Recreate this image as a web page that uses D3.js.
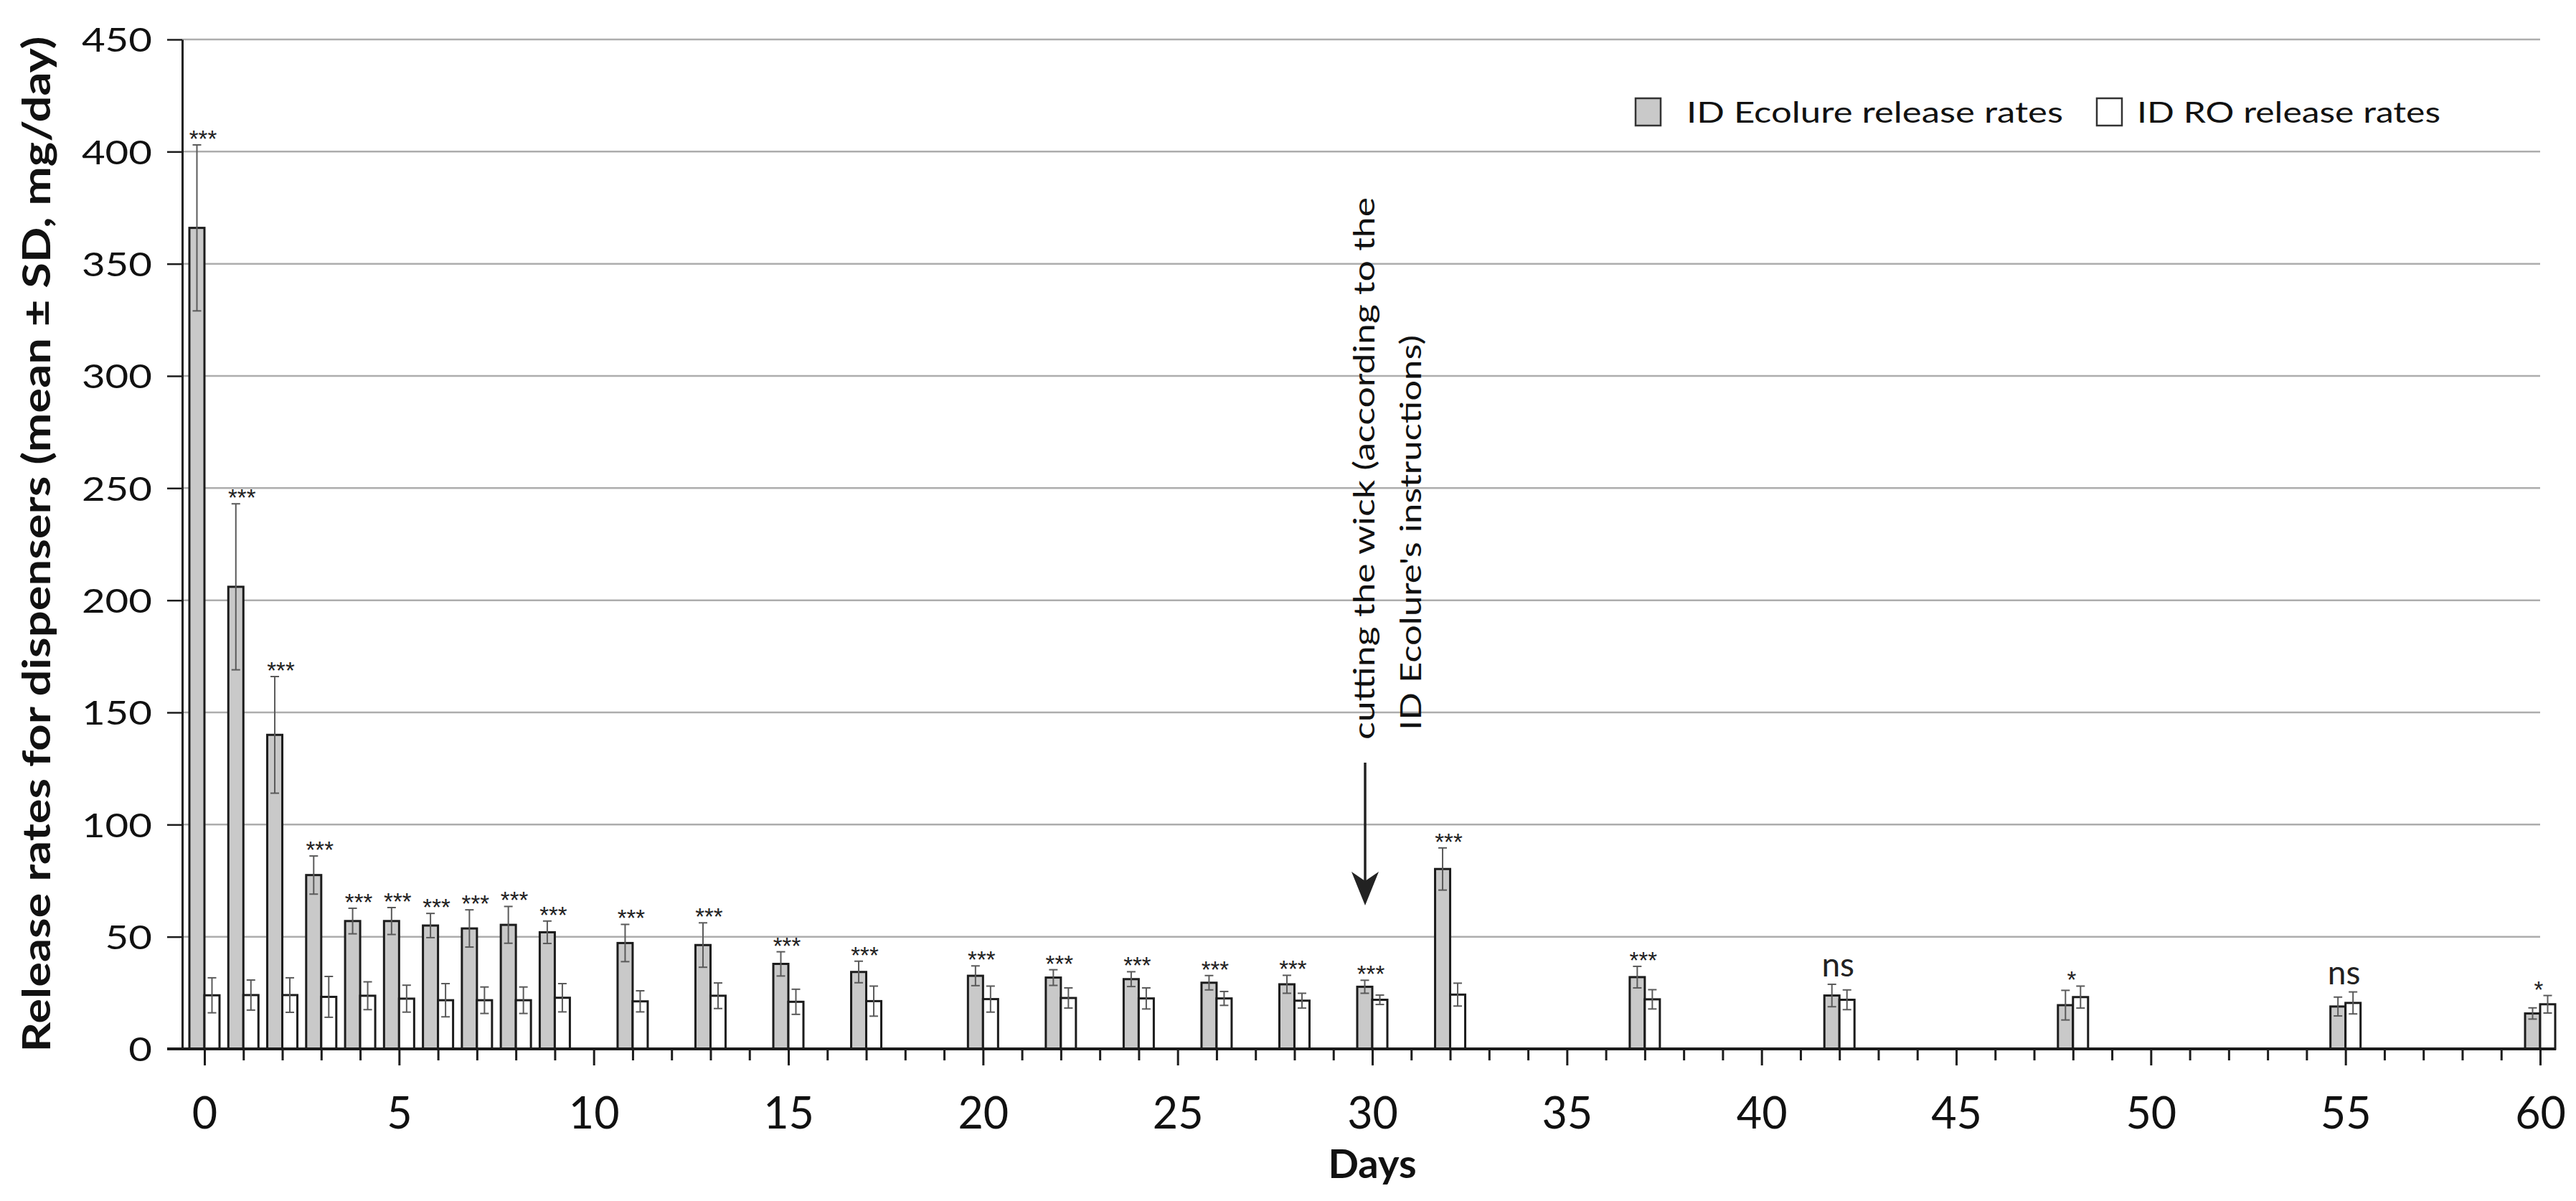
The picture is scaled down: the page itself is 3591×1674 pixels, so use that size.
<!DOCTYPE html>
<html><head><meta charset="utf-8">
<script src="https://cdn.jsdelivr.net/npm/d3@7"></script>
<style>html,body{margin:0;padding:0;background:#fff;} svg{display:block;}</style>
</head><body>
<svg id="chart" width="3591" height="1674"></svg>
<script>
// ---------- data ----------
const days = [0,1,2,3,4,5,6,7,8,9,11,13,15,17,20,22,24,26,28,30,32,37,42,48,55,60];
const ecolureMean = [366,206,140,77.5,57,57,55,53.7,55.3,52,47.2,46.3,37.9,34.3,32.6,31.8,31.1,29.5,28.8,27.7,80.2,32.0,23.8,19.5,18.9,15.8];
const ecolureSD   = [37,37,26,8.5,5.7,6,5.4,8.3,8.2,5,8.3,9.9,5.4,4.8,4.4,3.5,3.3,3.2,4.0,2.9,9.4,4.8,5.0,6.6,4.2,2.5];
const roMean      = [23.9,24,24,23.2,23.7,22.4,21.7,21.7,21.7,22.8,21.2,23.7,21,21.3,22.2,22.7,22.5,22.5,21.5,21.9,24.2,22.1,21.9,23.1,20.5,19.9];
const roSD        = [7.8,6.7,7.7,9.1,6.2,6,7.4,5.9,5.9,6.3,4.7,5.7,5.6,6.7,5.8,4.5,4.7,3.1,3.3,2.1,5.1,4.3,4.4,4.9,4.9,3.9];
const significance = ["***","***","***","***","***","***","***","***","***","***","***","***","***","***","***","***","***","***","***","***","***","***","ns","*","ns","*"];
const yTickValues = [0,50,100,150,200,250,300,350,400,450];
const xTickLabels = [0,5,10,15,20,25,30,35,40,45,50,55,60];
const seriesNames = ["ID Ecolure release rates","ID RO release rates"];
const yTitle = "Release rates for dispensers (mean \u00B1 SD, mg/day)";
const xTitle = "Days";
const annotationLines = ["cutting the wick (according to the","ID Ecolure's instructions)"];
const annotationDay = 30;

// ---------- layout ----------
const svg = d3.select("#chart");
const x = d3.scaleLinear().domain([0,60]).range([285,3541]);
const y = d3.scaleLinear().domain([0,450]).range([1462,55]);
const barW = 21;
const yAxisX = 254;
const FONT = "Lato, 'Open Sans', sans-serif";
const greyFill = "#c9c9c9";
const ink = "#1c1c1c";

function stretch(sel, factor){
  sel.each(function(){
    const L = this.getComputedTextLength();
    d3.select(this).attr("textLength", L*factor).attr("lengthAdjust","spacingAndGlyphs");
  });
}
function fitLen(sel, len){
  sel.attr("textLength", len).attr("lengthAdjust","spacingAndGlyphs");
}

// gridlines
svg.append("g").selectAll("line").data(yTickValues.filter(v=>v>0)).join("line")
  .attr("x1", yAxisX).attr("x2", x(60))
  .attr("y1", d=>y(d)).attr("y2", d=>y(d))
  .attr("stroke","#adadad").attr("stroke-width",2.5);

// bars
const rows = days.map((d,i)=>({d, gm:ecolureMean[i], gs:ecolureSD[i], wm:roMean[i], ws:roSD[i], sig:significance[i]}));
const gBars = svg.append("g");
gBars.selectAll("rect.g").data(rows).join("rect").attr("class","g")
  .attr("x", r=>x(r.d)-barW).attr("width", barW)
  .attr("y", r=>y(r.gm)).attr("height", r=>y(0)-y(r.gm))
  .attr("fill", greyFill).attr("stroke", ink).attr("stroke-width",3);
gBars.selectAll("rect.w").data(rows).join("rect").attr("class","w")
  .attr("x", r=>x(r.d)).attr("width", barW)
  .attr("y", r=>y(r.wm)).attr("height", r=>y(0)-y(r.wm))
  .attr("fill", "#ffffff").attr("stroke", ink).attr("stroke-width",3);

// error bars
const errs = [];
rows.forEach(r=>{
  errs.push({cx:x(r.d)-barW/2, lo:r.gm-r.gs, hi:r.gm+r.gs});
  errs.push({cx:x(r.d)+barW/2, lo:r.wm-r.ws, hi:r.wm+r.ws});
});
const gErr = svg.append("g").attr("stroke","#5a5a5a").attr("stroke-width",2);
gErr.selectAll("line.v").data(errs).join("line").attr("class","v")
  .attr("x1",e=>e.cx).attr("x2",e=>e.cx).attr("y1",e=>y(e.lo)).attr("y2",e=>y(e.hi));
gErr.selectAll("line.t").data(errs).join("line").attr("class","t")
  .attr("x1",e=>e.cx-6).attr("x2",e=>e.cx+6).attr("y1",e=>y(e.hi)).attr("y2",e=>y(e.hi));
gErr.selectAll("line.b").data(errs).join("line").attr("class","b")
  .attr("x1",e=>e.cx-6).attr("x2",e=>e.cx+6).attr("y1",e=>y(e.lo)).attr("y2",e=>y(e.lo));

// significance labels
svg.append("g").selectAll("text").data(rows).join("text")
  .attr("x", r=>x(r.d)-2)
  .attr("y", r=>{
    const top = Math.min(y(r.gm+r.gs), y(r.wm+r.ws));
    return r.sig==="ns" ? top-11 : top+3;
  })
  .attr("text-anchor","middle")
  .attr("font-family", r=> r.sig==="ns" ? FONT : "'Liberation Sans', Arial, sans-serif")
  .attr("font-size", r=> r.sig==="ns" ? 46 : 33)
  .attr("fill","#222")
  .text(r=>r.sig);

// y axis
const yAxis = d3.axisLeft(y).tickValues(yTickValues).tickSize(21).tickSizeOuter(0).tickPadding(21);
const gy = svg.append("g").attr("transform",`translate(${yAxisX},0)`).call(yAxis);
gy.select(".domain").attr("stroke",ink).attr("stroke-width",3);
gy.selectAll(".tick line").attr("stroke",ink).attr("stroke-width",2.5);
gy.selectAll(".tick text").attr("font-family",FONT).attr("font-size",47).attr("fill","#111").attr("dy","0.36em");
stretch(gy.selectAll(".tick text"), 1.2);

// x axis
const xAxis = d3.axisBottom(x).tickValues(d3.range(0,61)).tickSize(16).tickSizeOuter(0)
  .tickFormat(d=> xTickLabels.includes(d) ? String(d) : "");
const gx = svg.append("g").attr("transform",`translate(0,${y(0)})`).call(xAxis);
gx.select(".domain").remove();
gx.selectAll(".tick line").attr("stroke",ink).attr("stroke-width",3)
  .attr("y2", d=> d%5===0 ? 23 : 16);
gx.selectAll(".tick text").attr("font-family",FONT).attr("font-size",61).attr("fill","#111")
  .attr("y", 68).attr("dy","0.71em");
gx.append("line").attr("x1", yAxisX-21).attr("x2", x(60)+barW+1).attr("y1",0).attr("y2",0)
  .attr("stroke",ink).attr("stroke-width",4);

// axis titles
svg.append("text").attr("transform",`translate(70,${(y(0)+y(450))/2}) rotate(-90)`)
  .attr("text-anchor","middle").attr("font-family",FONT).attr("font-weight","bold")
  .attr("font-size",53).attr("fill","#111").text(yTitle)
  .call(s=>fitLen(s, 1416));
svg.append("text").attr("x", x(30)).attr("y", 1642)
  .attr("text-anchor","middle").attr("font-family",FONT).attr("font-weight","bold")
  .attr("font-size",56).attr("fill","#111").text(xTitle);

// legend
const legend = [
  {name:seriesNames[0], fill:greyFill, bx:2280, tx:2351, len:525},
  {name:seriesNames[1], fill:"#ffffff", bx:2923, tx:2979, len:423}
];
const gl = svg.append("g");
gl.selectAll("rect").data(legend).join("rect")
  .attr("x",d=>d.bx).attr("y",137).attr("width",35).attr("height",38)
  .attr("fill",d=>d.fill).attr("stroke","#333").attr("stroke-width",2.5);
gl.selectAll("text").data(legend).join("text")
  .attr("x",d=>d.tx).attr("y",171).attr("font-family",FONT).attr("font-size",40).attr("fill","#111")
  .text(d=>d.name)
  .each(function(d){ d3.select(this).attr("textLength",d.len).attr("lengthAdjust","spacingAndGlyphs"); });

// annotation
const ax = x(annotationDay) - 10;
const ann = [
  {t:annotationLines[0], bx:ax+13, by:1031, len:756},
  {t:annotationLines[1], bx:ax+78, by:1018, len:551}
];
svg.append("g").selectAll("text").data(ann).join("text")
  .attr("transform",d=>`translate(${d.bx},${d.by}) rotate(-90)`)
  .attr("font-family",FONT).attr("font-size",40).attr("fill","#111")
  .text(d=>d.t)
  .each(function(d){ d3.select(this).attr("textLength",d.len).attr("lengthAdjust","spacingAndGlyphs"); });
// arrow
svg.append("line").attr("x1",ax).attr("x2",ax).attr("y1",1063).attr("y2",1230)
  .attr("stroke","#222").attr("stroke-width",3.5);
svg.append("path")
  .attr("d",`M${ax-19},1215 L${ax},1262 L${ax+19},1215 L${ax},1228 Z`)
  .attr("fill","#222");
</script>
</body></html>
